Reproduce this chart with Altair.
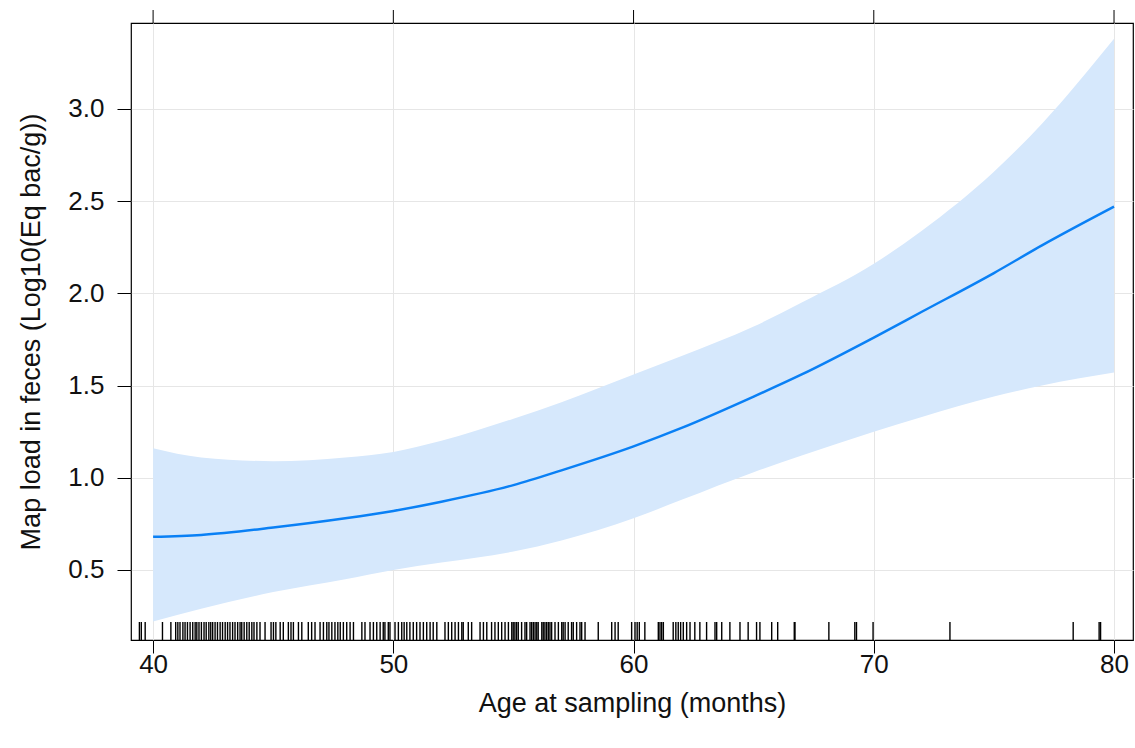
import altair as alt
import pandas as pd

# Fitted curve and confidence band (age in months)
grid_age = [40, 42, 45, 48, 50, 52, 55, 57, 60, 62, 65, 67, 70, 72, 75, 77, 80]
fit = [0.68, 0.69, 0.73, 0.78, 0.82, 0.87, 0.96, 1.04, 1.17, 1.27, 1.44, 1.56, 1.76, 1.90, 2.11, 2.26, 2.47]
upper = [1.16, 1.11, 1.09, 1.11, 1.14, 1.20, 1.32, 1.41, 1.56, 1.66, 1.82, 1.95, 2.16, 2.34, 2.66, 2.92, 3.38]
lower = [0.22, 0.29, 0.38, 0.45, 0.50, 0.54, 0.60, 0.66, 0.78, 0.88, 1.03, 1.12, 1.25, 1.33, 1.44, 1.50, 1.57]

# Observed ages (rug)
rug_age = [39.43, 39.51, 39.67, 40.39, 40.74, 40.94, 41.03, 41.12, 41.24, 41.33, 41.43, 41.54,
           41.65, 41.75, 41.82, 41.91, 42.01, 42.12, 42.21, 42.32, 42.40, 42.48, 42.58, 42.68,
           42.79, 42.89, 43.00, 43.10, 43.20, 43.31, 43.41, 43.52, 43.62, 43.69, 43.79, 43.90,
           44.00, 44.11, 44.20, 44.32, 44.45, 44.66, 44.91, 45.01, 45.11, 45.29, 45.42, 45.63,
           45.74, 45.84, 46.05, 46.19, 46.46, 46.60, 46.74, 46.95, 47.09, 47.23, 47.32, 47.44,
           47.57, 47.69, 47.79, 47.92, 48.06, 48.20, 48.34, 48.69, 48.82, 49.03, 49.17, 49.31,
           49.45, 49.58, 49.65, 49.79, 49.86, 50.07, 50.21, 50.35, 50.45, 50.56, 50.69, 50.83,
           50.97, 51.11, 51.25, 51.39, 51.53, 51.66, 51.81, 52.15, 52.29, 52.43, 52.57, 52.71,
           52.85, 52.91, 53.12, 53.26, 53.61, 53.75, 53.89, 54.09, 54.23, 54.37, 54.51, 54.65,
           54.79, 54.93, 54.99, 55.06, 55.13, 55.20, 55.34, 55.48, 55.55, 55.69, 55.76, 55.83,
           55.90, 55.97, 56.03, 56.18, 56.24, 56.31, 56.38, 56.45, 56.52, 56.59, 56.73, 56.87,
           57.01, 57.07, 57.15, 57.28, 57.42, 57.49, 57.63, 57.77, 57.84, 57.98, 58.53, 59.09,
           59.23, 59.36, 59.92, 60.06, 60.15, 60.24, 60.47, 61.03, 61.10, 61.17, 61.24, 61.65,
           61.76, 61.86, 61.96, 62.07, 62.21, 62.35, 62.55, 62.76, 63.04, 63.39, 63.46, 63.67,
           64.01, 64.43, 64.77, 65.12, 65.26, 65.75, 66.00, 66.69, 66.72, 68.13, 69.21, 69.28,
           69.97, 73.17, 78.30, 79.38, 79.44]

x_ticks = [40, 50, 60, 70, 80]
y_ticks = [0.5, 1.0, 1.5, 2.0, 2.5, 3.0]

W, H = 1002, 617
FONT = "Liberation Sans"

curve = pd.DataFrame({"age": grid_age, "fit": fit, "lo": lower, "hi": upper})
rug = pd.DataFrame({"age": rug_age})
ticks = pd.DataFrame({"age": x_ticks})

xs = alt.Scale(domain=[39.08, 80.79], nice=False, zero=False)
ys = alt.Scale(domain=[0.12, 3.466], nice=False, zero=False)

x_axis = alt.Axis(values=x_ticks, title="Age at sampling (months)", grid=True, gridColor="#e6e6e6",
                  domain=False, tickColor="black", tickSize=13, labelFontSize=26, labelFont=FONT,
                  labelColor="#111111", labelPadding=-2, titleFontSize=27, titleFont=FONT,
                  titleFontWeight="normal", titleColor="#111111", titlePadding=13, labelFlush=False)
y_axis = alt.Axis(values=y_ticks, format=".1f", title="Map load in feces (Log10(Eq bac/g))",
                  grid=True, gridColor="#e6e6e6", domain=False, tickColor="black", tickSize=14,
                  labelFontSize=26, labelFont=FONT, labelColor="#111111", labelPadding=13,
                  titleFontSize=27, titleFont=FONT, titleFontWeight="normal", titleColor="#111111",
                  titlePadding=22)

band = alt.Chart(curve).mark_area(color="#d6e8fc", interpolate="monotone").encode(
    x=alt.X("age:Q", scale=xs, axis=x_axis),
    y=alt.Y("lo:Q", scale=ys, axis=y_axis),
    y2="hi:Q",
)
line = alt.Chart(curve).mark_line(color="#0a80f5", strokeWidth=2.5, interpolate="monotone").encode(
    x=alt.X("age:Q", scale=xs),
    y=alt.Y("fit:Q", scale=ys),
)
rugs = alt.Chart(rug).mark_rule(color="black", strokeWidth=1.4).encode(
    x=alt.X("age:Q", scale=xs),
    y=alt.value(H - 18),
    y2=alt.value(H),
)
top_ticks = alt.Chart(ticks).mark_rule(color="black", strokeWidth=1).encode(
    x=alt.X("age:Q", scale=xs),
    y=alt.value(-13),
    y2=alt.value(0),
)

chart = alt.layer(band, line, rugs, top_ticks).properties(
    width=W, height=H,
    autosize=alt.AutoSizeParams(type="none"),
    padding={"left": 131, "top": 23, "right": 2, "bottom": 108},
    background="white",
).configure_view(stroke="black", strokeWidth=1.2)

chart.save("out.html", embed_options={"renderer": "svg", "actions": False})
